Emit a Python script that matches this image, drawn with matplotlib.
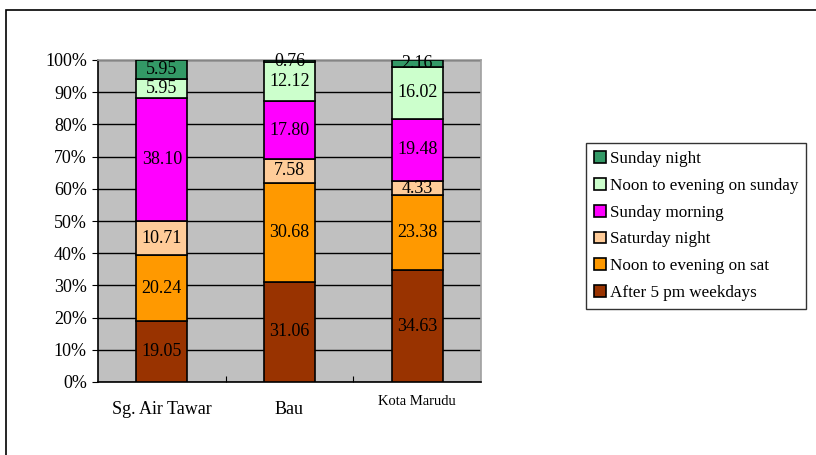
import numpy as np
import matplotlib.pyplot as plt
from matplotlib.patches import Rectangle

plt.rcParams['font.family'] = ['Liberation Serif', 'DejaVu Serif']

sites = ['Sg. Air Tawar', 'Bau', 'Kota Marudu']
periods = ['After 5 pm weekdays', 'Noon to evening on sat', 'Saturday night',
           'Sunday morning', 'Noon to evening on sunday', 'Sunday night']
colors = ['#993300', '#FF9900', '#FFCC99', '#FF00FF', '#CCFFCC', '#339966']

# percentage share per period, one list per site
air_tawar = [19.05, 20.24, 10.71, 38.10, 5.95, 5.95]
bau = [31.06, 30.68, 7.58, 17.80, 12.12, 0.76]
kota_marudu = [34.63, 23.38, 4.33, 19.48, 16.02, 2.16]

values = np.array([air_tawar, bau, kota_marudu]).T

fig = plt.figure(figsize=(8.16, 4.55), dpi=100)
ax = fig.add_axes([98 / 816, 1 - 382 / 455, 383 / 816, 322 / 455])
ax.set_facecolor('#C0C0C0')

x = np.arange(len(sites)) + 0.5
bottom = np.zeros(len(sites))
handles = []
for i, (name, col) in enumerate(zip(periods, colors)):
    bars = ax.bar(x, values[i], 0.4, bottom=bottom, color=col,
                  edgecolor='black', linewidth=1.2, label=name, zorder=3)
    handles.append(bars)
    for xi, b, v in zip(x, bottom, values[i]):
        ax.text(xi, b + v / 2, f'{v:.2f}', ha='center', va='center',
                fontsize=13, zorder=4)
    bottom += values[i]

ax.set_xlim(0, 3)
ax.set_ylim(0, 100)
ax.set_yticks(np.arange(0, 101, 10))
ax.set_yticklabels([f'{t}%' for t in range(0, 101, 10)], fontsize=13)
ax.yaxis.grid(True, color='black', linewidth=1.0, zorder=1)
ax.set_axisbelow(True)

ax.set_xticks([1, 2])
ax.set_xticklabels([])
ax.tick_params(axis='x', direction='in', length=4)
ax.tick_params(axis='y', direction='out', length=4, pad=4)
for xi, name in zip(x, sites):
    fs = 10.5 if name == 'Kota Marudu' else 13
    dy = -0.062 if name == 'Kota Marudu' else -0.085
    ax.text(xi, dy, name, transform=ax.get_xaxis_transform(),
            ha='center', va='center', fontsize=fs)

for s in ['left', 'bottom']:
    ax.spines[s].set_color('black')
    ax.spines[s].set_linewidth(1.2)
for s in ['top', 'right']:
    ax.spines[s].set_color('#A0A0A0')
    ax.spines[s].set_linewidth(1.2)

leg = fig.legend(handles[::-1], periods[::-1], loc='upper left',
                 bbox_to_anchor=(586 / 816, 1 - 143 / 455), fontsize=12.3,
                 frameon=True, fancybox=False, edgecolor='black',
                 handlelength=0.7, handleheight=0.7, handletextpad=0.25,
                 labelspacing=0.64, borderpad=0.45, borderaxespad=0)
leg.get_frame().set_linewidth(1.0)

# outer frame of the chart area
fig.patches.append(Rectangle((6 / 816, -0.05), 1.1, 1 - 10 / 455 + 0.05,
                             transform=fig.transFigure, fill=False,
                             edgecolor='black', linewidth=1.2))

fig.savefig('out.png', dpi=100)
